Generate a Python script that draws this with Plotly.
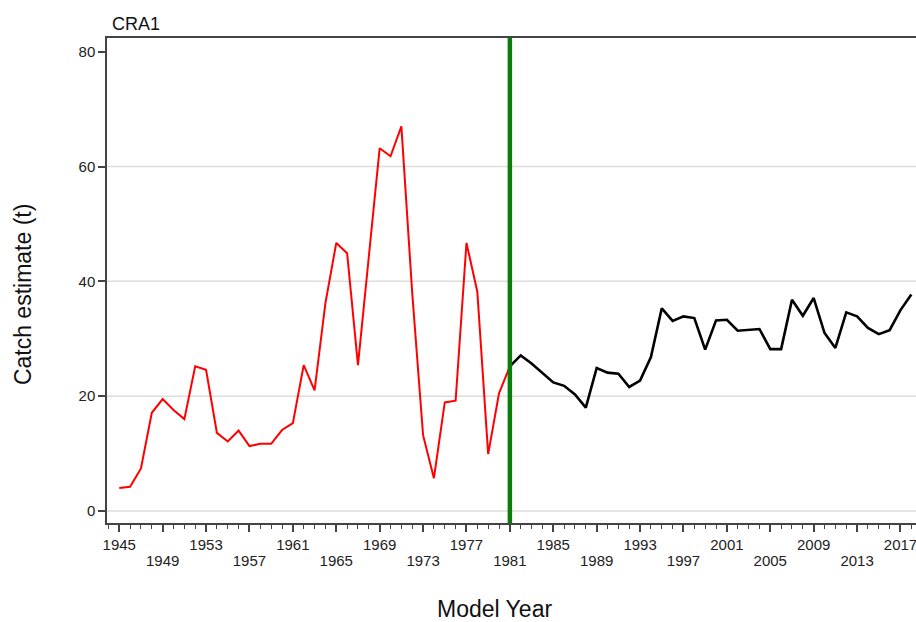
import plotly.graph_objects as go

# ---- data ----
YEARS_EARLY = list(range(1945, 1982))
CATCH_EARLY = [4.0, 4.2, 7.4, 17.1, 19.5, 17.6, 16.0, 25.2, 24.6, 13.6,
               12.1, 14.0, 11.3, 11.7, 11.7, 14.1, 15.3, 25.4, 21.0, 36.2,
               46.7, 44.9, 25.4, 44.5, 63.2, 61.8, 67.0, 38.0, 13.2, 5.7,
               18.9, 19.2, 46.7, 38.2, 9.9, 20.5, 25.2]
YEARS_LATE = list(range(1981, 2019))
CATCH_LATE = [25.2, 27.1, 25.7, 24.0, 22.4, 21.8, 20.3, 18.0, 24.9, 24.1,
              23.9, 21.6, 22.7, 26.8, 35.3, 33.1, 33.9, 33.6, 28.1, 33.2,
              33.3, 31.4, 31.5, 31.7, 28.2, 28.2, 36.8, 34.0, 37.1, 31.0,
              28.4, 34.6, 33.9, 31.9, 30.8, 31.5, 35.0, 37.7]
CUTOFF_YEAR = 1981
TICK_ROW1 = [1945, 1953, 1961, 1969, 1977, 1985, 1993, 2001, 2009, 2017]
TICK_ROW2 = [1949, 1957, 1965, 1973, 1981, 1989, 1997, 2005, 2013]
Y_TICKS = [0, 20, 40, 60, 80]
GRID_VALUES = [0, 20, 40, 60]

FONT = "Liberation Sans, Arial, sans-serif"
AX = "#444444"
X_RANGE = [1943.87, 2018.43]
Y_RANGE = [-2.1, 82.4]

fig = go.Figure()
fig.add_trace(go.Scatter(x=YEARS_EARLY, y=CATCH_EARLY, mode="lines",
                         line=dict(color="#ff0000", width=2),
                         showlegend=False, xaxis="x", yaxis="y"))
fig.add_trace(go.Scatter(x=YEARS_LATE, y=CATCH_LATE, mode="lines",
                         line=dict(color="#000000", width=2.6),
                         showlegend=False, xaxis="x2", yaxis="y"))

all_major = sorted(TICK_ROW1 + TICK_ROW2)
row1_text = [str(v) if v in TICK_ROW1 else "" for v in all_major]

for g in GRID_VALUES:
    fig.add_shape(type="line", xref="paper", x0=0, x1=1, yref="y", y0=g, y1=g,
                  line=dict(color="#dddddd", width=1.5), layer="below")

fig.add_shape(type="line", xref="x", x0=CUTOFF_YEAR, x1=CUTOFF_YEAR,
              yref="paper", y0=0, y1=1,
              line=dict(color="#0b7d0b", width=4.5), layer="above")

fig.update_layout(
    width=916, height=622,
    margin=dict(l=107, r=0, t=38, b=99),
    paper_bgcolor="white", plot_bgcolor="white",
    font=dict(family=FONT, size=15, color="#222222"),
    xaxis=dict(range=X_RANGE, tickmode="array", tickvals=all_major,
               ticktext=row1_text, ticks="outside", ticklen=7, tickwidth=1.5,
               tickcolor=AX, showline=True, linecolor=AX, linewidth=1.5,
               mirror=True, showgrid=False, zeroline=False,
               ticklabeloverflow="allow",
               minor=dict(dtick=1, tick0=1945, ticks="outside", ticklen=4,
                          tickwidth=1.2, tickcolor=AX, showgrid=False),
               tickfont=dict(size=15, family=FONT)),
    xaxis2=dict(range=X_RANGE, overlaying="x", side="bottom", matches="x",
                tickmode="array", tickvals=TICK_ROW2,
                ticktext=[str(v) for v in TICK_ROW2], ticks="",
                ticklabelstandoff=27, showline=False, showgrid=False,
                ticklabeloverflow="allow",
                zeroline=False, tickfont=dict(size=15, family=FONT)),
    yaxis=dict(range=Y_RANGE, tickmode="array", tickvals=Y_TICKS,
               ticks="outside", ticklen=7, tickwidth=1.5, tickcolor=AX,
               showline=True, linecolor=AX, linewidth=1.5, showgrid=False,
               zeroline=False, tickfont=dict(size=15, family=FONT)),
    annotations=[
        dict(text="CRA1", xref="paper", yref="paper", x=0.0037, y=1.0289,
             xanchor="left", yanchor="middle", showarrow=False,
             font=dict(size=18, family=FONT, color="#111111")),
        dict(text="Catch estimate (t)", xref="paper", yref="paper",
             x=-0.1038, y=0.472, xanchor="center", yanchor="middle",
             textangle=-90, showarrow=False,
             font=dict(size=23, family=FONT, color="#111111")),
        dict(text="Model Year", xref="paper", yref="paper",
             x=0.4796, y=-0.178, xanchor="center", yanchor="middle",
             showarrow=False, font=dict(size=23, family=FONT, color="#111111")),
    ],
)

PAGE_STYLE = ("document.documentElement.style.overflow='hidden';"
              "document.body.style.margin='0';"
              "document.body.style.overflow='hidden';")

fig.write_html("out.html", post_script=PAGE_STYLE,
               config={"displayModeBar": False})
